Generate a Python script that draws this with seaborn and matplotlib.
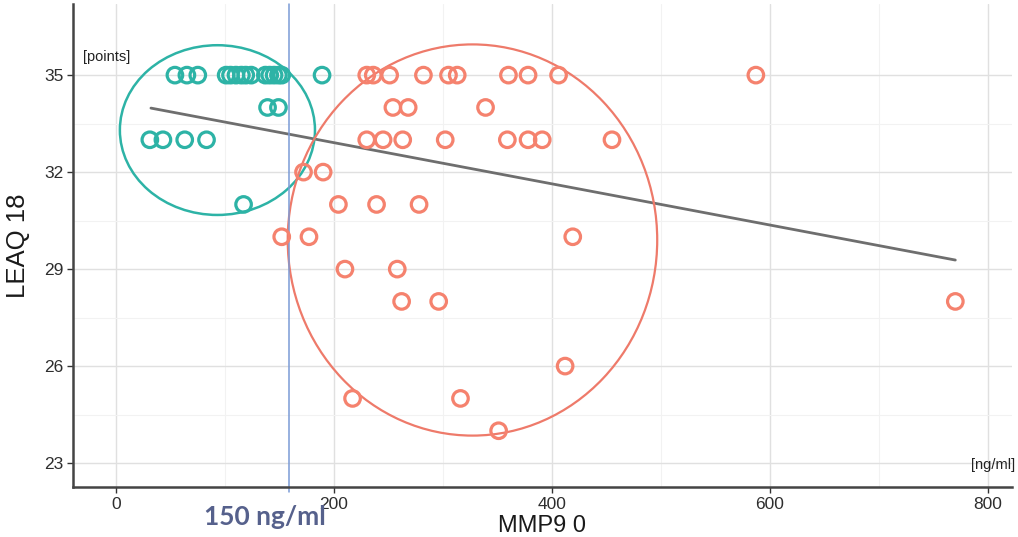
import numpy as np
import pandas as pd
import matplotlib
matplotlib.use("Agg")
import matplotlib.pyplot as plt
from matplotlib.patches import Ellipse
import seaborn as sns

# ---- data ----
low_x = [54, 65, 75, 101, 105, 110, 115, 119, 124, 137, 141, 145, 149, 152, 189,
         139, 149, 31, 43, 63, 83, 117]
low_y = [35, 35, 35, 35, 35, 35, 35, 35, 35, 35, 35, 35, 35, 35, 35,
         34, 34, 33, 33, 33, 33, 31]
high_x = [230, 236, 251, 282, 305, 313, 360, 378, 406, 587,
          254, 268, 339,
          230, 245, 263, 302, 359, 378, 391, 455,
          172, 190, 204, 239, 278, 152, 177, 419, 210, 258, 262, 296,
          412, 217, 316, 351, 770]
high_y = [35, 35, 35, 35, 35, 35, 35, 35, 35, 35,
          34, 34, 34,
          33, 33, 33, 33, 33, 33, 33, 33,
          32, 32, 31, 31, 31, 30, 30, 30, 29, 29, 28, 28,
          26, 25, 25, 24, 28]
groups = ["low", "high"]
fit_x = [32, 770]
fit_y = [33.98, 29.28]
cutoff = 159
x_ticks = [0, 200, 400, 600, 800]
y_ticks = [23, 26, 29, 32, 35]
# ellipse annotations: (center x, center y, width, height)
ell_low = (93, 33.3, 179, 5.25)
ell_high = (327, 29.9, 339, 12.1)

df = pd.DataFrame({
    "MMP9 0": low_x + high_x,
    "LEAQ 18": low_y + high_y,
    "group": [groups[0]] * len(low_x) + [groups[1]] * len(high_x),
})
fit_df = pd.DataFrame({"x": fit_x, "y": fit_y})

teal = "#2db3a6"
salmon = "#f5826e"

sns.set_theme(style="whitegrid")
plt.rcParams["font.family"] = ["Liberation Sans", "DejaVu Sans"]

fig = plt.figure(figsize=(10.18, 5.37), dpi=100)
ax = fig.add_axes([73 / 1018, 1 - 487 / 537, (1012 - 73) / 1018, (487 - 4) / 537])

# grid
ax.set_axisbelow(True)
ax.grid(True, which="major", color="#e0e0e0", linewidth=1.0)
ax.set_xticks([100, 300, 500, 700], minor=True)
ax.set_yticks([24.5, 27.5, 30.5, 33.5], minor=True)
ax.grid(True, which="minor", color="#f2f2f2", linewidth=0.8)

sns.lineplot(data=fit_df, x="x", y="y", ax=ax, color="#6e6e6e", linewidth=2.0, zorder=2)

sns.scatterplot(data=df, x="MMP9 0", y="LEAQ 18", hue="group",
                palette={"low": teal, "high": salmon}, s=125, ax=ax,
                legend=False, zorder=3)
pts = ax.collections[-1]
fc = pts.get_facecolors()
pts.set_edgecolors(fc)
pts.set_facecolors("none")
pts.set_linewidths(2.3)

ax.add_patch(Ellipse(ell_low[:2], ell_low[2], ell_low[3], fill=False,
                     edgecolor=teal, linewidth=1.8, zorder=2))
ax.add_patch(Ellipse(ell_high[:2], ell_high[2], ell_high[3], fill=False,
                     edgecolor="#ee7a6a", linewidth=1.6, zorder=2))

ax.axvline(cutoff, color="#7b9bd6", linewidth=1.1, zorder=2, ymin=-0.01, clip_on=False)

ax.set_xlim(-39.5, 822)
ax.set_ylim(22.26, 37.2)
ax.set_xticks(x_ticks)
ax.set_yticks(y_ticks)
ax.tick_params(axis="both", which="major", labelsize=12.5, colors="#333333",
               length=4, width=1.0, direction="out", bottom=True, left=True, pad=3)
ax.tick_params(axis="both", which="minor", length=0)
for lab in ax.get_xticklabels() + ax.get_yticklabels():
    lab.set_color("#2e2e2e")

for side in ["top", "right"]:
    ax.spines[side].set_visible(False)
for side in ["left", "bottom"]:
    ax.spines[side].set_visible(True)
    ax.spines[side].set_color("#444444")
    ax.spines[side].set_linewidth(1.8)

ax.set_xlabel("MMP9 0", fontsize=17, color="#1a1a1a", labelpad=2)
ax.set_ylabel("LEAQ 18", fontsize=18.5, color="#1a1a1a", labelpad=10)

fig.text(83 / 1018, 1 - 57 / 537, "[points]", fontsize=10.5,
         color="#222222", ha="left", va="center")
fig.text(1015 / 1018, 1 - 465 / 537, "[ng/ml]", fontsize=10.5,
         color="#222222", ha="right", va="center")

fig.text(204 / 1018, 1 - 517 / 537, "150 ng/ml", fontsize=19, fontweight="bold",
         family=["Lato", "DejaVu Sans"], color="#56618c", ha="left", va="center")

fig.savefig("out.png", dpi=100, facecolor="white")
